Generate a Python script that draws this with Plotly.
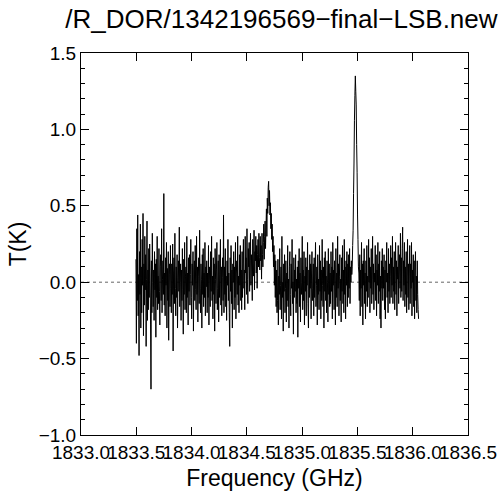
import numpy as np
import plotly.graph_objects as go

# Spectrum channel grid (GHz)
freq_start = 1833.497
freq_step = 0.004

# Antenna temperature, in units of 0.01 K, read channel by channel from the picture
s01 = [15, -40, 35, -12, 44, -22, 5, -48, 20, -8, 38, -30, 10, -20, 28, -2, 45, -35, 12, -15,
       30, -5, 18, -42, 2, 40, -25, 8, -18, 22, -10, 25, 6, -28, -70, 14, -20, 32, 0, -16]
s02 = [8, -25, 20, -5, 12, -36, 15, -10, 30, -18, 4, -14, 22, -6, -28, 10, 18, -12, 35, -20,
       2, 14, -8, 58, -15, 6, -22, 16, -2, 26, -30, 9, -12, 20, -38, 5, 12, -16, 24, -4]
s03 = [-20, 12, -8, 25, -45, 6, 16, -14, 32, -4, -22, 10, -10, 18, -30, 3, 14, -6, 36, -16,
       0, 12, -25, 8, -12, 22, -5, -34, 15, -8, 26, -18, 4, 10, -20, 30, -10, 6, -28, 16]
s04 = [-6, 18, -15, 5, 28, -10, -24, 12, -2, 20, -32, 8, 14, -12, 24, -5, -18, 30, -8, 10,
       -26, 4, 16, -14, 34, -4, -20, 12, 2, -30, 18, -8, 22, -16, 6, -10, 26, -22, 10, -3]
s05 = [14, -20, 6, -10, 24, -28, 10, 0, -16, 20, -6, 30, -12, 4, -24, 16, -8, 12, -32, 22,
       2, -14, 8, 26, -18, -4, 14, -26, 18, -10, 5, 28, -15, 10, -22, 3, 16, -12, 44, -20]
s06 = [10, -8, 22, -16, 4, -25, 14, -2, 28, -12, 6, -20, -42, 16, -6, 24, -14, 8, -30, 12,
       0, 20, -18, 10, -10, 26, -24, 6, 14, -8, 30, -15, 4, -20, 18, -2, 24, -12, 8, -18]
s07 = [20, -10, 12, 28, -4, 8, -18, 30, 6, 16, -8, 35, 2, -14, 22, 10, 26, -6, 14, 32,
       -2, 18, 8, -12, 28, 12, 4, 34, -5, 20, 14, 30, 6, 24, -4, 18, 28, 10, 32, 16]
s08 = [8, 30, 14, 24, 2, 32, 18, 10, 26, 38, 15, 30, 40, 22, 36, 48, 30, 55, 45, 62,
       66, 50, 60, 44, 52, 35, 45, 28, 38, 20, 30, 10, 24, -2, 18, -10, 14, -16, 8, -20]
s09 = [-12, 15, -28, 4, -8, 22, -18, -2, 10, -24, 30, -10, 0, -32, 12, -6, 18, -20, -4, 14,
       -26, 6, -12, 24, -16, 2, -30, 10, 20, -8, -22, 12, -4, 28, -14, 0, -34, 16, -10, 8]
s10 = [-6, 18, -20, 2, -14, 10, -36, 14, -4, 22, -16, 6, -26, 16, -8, 0, 30, -18, 8, -12,
       20, -28, 4, -6, 16, -22, 10, -2, 26, -14, -30, 8, -10, 18, -4, 12, -24, 6, 20, -12]
s11 = [-4, 12, -22, 16, -10, 4, 26, -16, -2, 10, -28, 18, -8, 2, -18, 24, -6, 14, -24, 8,
       -12, 28, -2, -16, 10, -30, 16, -6, 20, -12, 4, -20, 14, 0, -26, 22, -8, 12, -16, 6]
s12 = [-14, 20, -6, 10, -24, 26, -2, 8, -18, 14, 0, -28, 22, -10, 6, -16, 30, -4, 12, -22,
       4, 18, -12, 2, -26, 16, -6, 24, -14, 8, -20, 28, -8, 10, -24, 14, -2, 20, -16, 12]
s13 = [-10, 18, -4, 22, -14, 10, 0, 14,
       5, 10, 24, 34, 58, 78, 106, 122, 135, 125, 116, 90, 72, 44, 28, 10, 6,
       -12, 18, -22, 8, -4, 26, -16, 12, -28, 14, -2, 22, -14, 6, -24]
s14 = [14, -6, 24, -16, 4, -10, 28, 0, 16, -20, 10, -4, 22, -14, 2, 30, -8, 12, -18, 6,
       0, 24, -12, 18, -22, 8, -2, 26, -14, 12, -6, 20, -24, 4, -30, 14, -4, 22, -12, 10]
s15 = [-4, 18, -18, 8, -24, 14, 0, 26, -10, 6, -20, 22, -6, 12, -14, 4, 24, -10, 16, -2,
       30, -14, 10, -6, 20, -18, 4, 26, -8, 14, -22, 10, 2, 24, -14, 6, 18, -4, 32, -10]
s16 = [16, -6, 22, 36, -12, 14, -2, 26, -16, 10, -8, 20, -20, 4, 28, -10, 12, -18, 6, 24,
       -14, 12, -4, 26, -22, 8, 0, 18, -16, 14, -24, 6, 20, -12, 4, -20, 14, -8, -18, -24]

segments = [s01, s02, s03, s04, s05, s06, s07, s08, s09, s10, s11, s12, s13, s14, s15, s16]
temp = np.array([v for s in segments for v in s], dtype=float) / 100.0
freq = freq_start + freq_step * np.arange(len(temp))

title_text = "/R_DOR/1342196569\u2212final\u2212LSB.new"

fig = go.Figure()
fig.add_trace(go.Scatter(x=freq, y=temp, mode="lines",
                         line=dict(color="black", width=1, simplify=False),
                         hoverinfo="skip"))

fig.add_shape(type="line", xref="x", yref="y", x0=1833.0, x1=1836.5, y0=0, y1=0,
              line=dict(color="#666666", width=1, dash="dot"), layer="below")

fig.update_layout(
    width=500, height=493,
    margin=dict(l=81, r=32, t=53, b=58),
    paper_bgcolor="white", plot_bgcolor="white",
    font=dict(family="Liberation Sans, Arial, sans-serif", size=19, color="black"),
    showlegend=False,
    title=dict(text=title_text, x=0.518, xref="paper", xanchor="center",
               y=1 - 19 / 493, yref="container", yanchor="middle",
               font=dict(size=26, color="black")),
)
fig.update_xaxes(
    range=[1833.0, 1836.5], tickmode="linear", tick0=1833.0, dtick=0.5, tickformat=".1f",
    tickangle=0, automargin=False,
    ticks="inside", ticklen=8, tickcolor="black", showline=True, linecolor="black",
    linewidth=1, mirror="ticks", showgrid=False, zeroline=False,
    title=dict(text="Frequency (GHz)", standoff=8),
)
fig.update_yaxes(
    range=[-1.0, 1.5], tickmode="linear", tick0=-1.0, dtick=0.5, tickformat=".1f",
    automargin=False,
    ticks="inside", ticklen=8, tickcolor="black", showline=True, linecolor="black",
    linewidth=1, mirror="ticks", showgrid=False, zeroline=False,
    minor=dict(ticks="inside", dtick=0.1, ticklen=4, tickcolor="black", showgrid=False),
    title=dict(text="T(K)", standoff=5),
)

fig.write_html("out.html", config={"displayModeBar": False},
               post_script="document.body.style.margin='0px';")
